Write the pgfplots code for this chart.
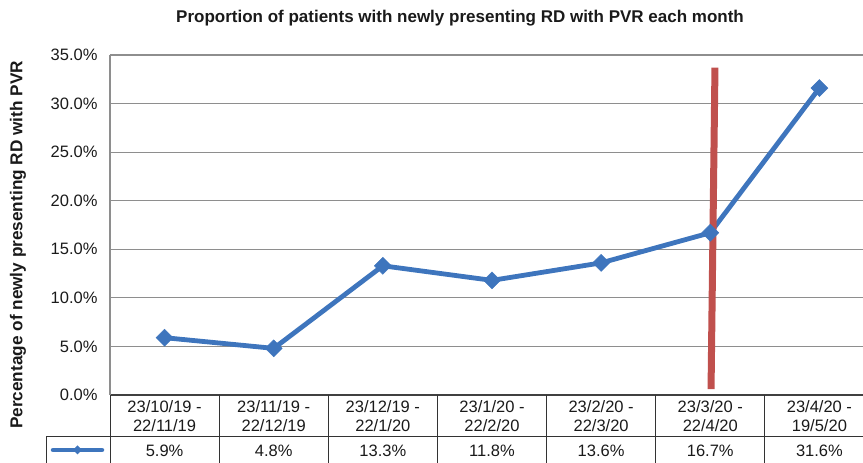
\documentclass[border=0pt]{standalone}
\usepackage{pgfplots}
\pgfplotsset{compat=1.18}
\usepackage{fontspec}
\setmainfont{Liberation Sans}
\definecolor{lineblue}{HTML}{3E75BD}
\definecolor{vred}{HTML}{C0504D}
\definecolor{gridgray}{HTML}{8E8E8E}
\definecolor{txt}{HTML}{1A1A1A}
\begin{document}
\begin{tikzpicture}[x=1pt,y=1pt]
\useasboundingbox (0,0) rectangle (863,463);
\clip (0,0) rectangle (863,463);
\begin{axis}[
  at={(110pt,68pt)}, anchor=south west,
  scale only axis, width=764pt, height=340pt,
  xmin=-0.5, xmax=6.5, ymin=0, ymax=35,
  ytick={0,5,...,35},
  xtick=\empty,
  ymajorgrids, grid style={gridgray, line width=1.2pt},
  axis lines=left,
  x axis line style={-, draw=black!75, line width=2pt},
  y axis line style={-, draw=gridgray, line width=1.2pt},
  major tick length=0pt,
  /pgf/number format/assume math mode=true,
  yticklabel={\pgfmathprintnumber[fixed,fixed zerofill,precision=1]{\tick}\%},
  yticklabel style={font=\fontsize{16.5}{18}\selectfont, text=txt, xshift=-9pt},
  clip=false,
]
\addplot[lineblue, line width=4.8pt, mark=square*, mark size=6pt,
  mark options={fill=lineblue, draw=lineblue, line width=0.5pt, rotate=45}]
  coordinates {(0,5.9) (1,4.8) (2,13.3) (3,11.8) (4,13.6) (5,16.7) (6,31.6)};
\addplot[vred, line width=7pt, mark=none] coordinates {(5.043,33.7) (5.007,0.6)};
\end{axis}
% title and y label
\node[text=txt, anchor=center] at (460,445) {\fontsize{17}{19}\selectfont\bfseries Proportion of patients with newly presenting RD with PVR each month};
\node[text=txt, anchor=center, rotate=90] at (18,218) {\fontsize{17.2}{19}\selectfont\bfseries Percentage of newly presenting RD with PVR};
% data table
\def\cw{109.14}
\draw[black!80, line width=1pt] (46,26) -- (874,26);
\draw[black!80, line width=1pt] (46,26) -- (46,0);
\foreach \k in {0,...,7} {
  \draw[black!80, line width=1pt] ({110+\cw*\k},68) -- ({110+\cw*\k},0);
}
\foreach \a/\b/\v [count=\i from 0] in {
  {23/10/19 -}/{22/11/19}/{5.9\%},
  {23/11/19 -}/{22/12/19}/{4.8\%},
  {23/12/19 -}/{22/1/20}/{13.3\%},
  {23/1/20 -}/{22/2/20}/{11.8\%},
  {23/2/20 -}/{22/3/20}/{13.6\%},
  {23/3/20 -}/{22/4/20}/{16.7\%},
  {23/4/20 -}/{19/5/20}/{31.6\%}} {
  \node[text=txt] at ({110+\cw*(\i+0.5)},56) {\fontsize{16.5}{18}\selectfont \a};
  \node[text=txt] at ({110+\cw*(\i+0.5)},37) {\fontsize{16.5}{18}\selectfont \b};
  \node[text=txt] at ({110+\cw*(\i+0.5)},12.5) {\fontsize{16.5}{18}\selectfont \v};
}
\draw[lineblue, line width=4.5pt, line cap=round] (53,13) -- (102,13);
\fill[lineblue] (77.5,17.5) -- (82,13) -- (77.5,8.5) -- (73,13) -- cycle;
\end{tikzpicture}
\end{document}
